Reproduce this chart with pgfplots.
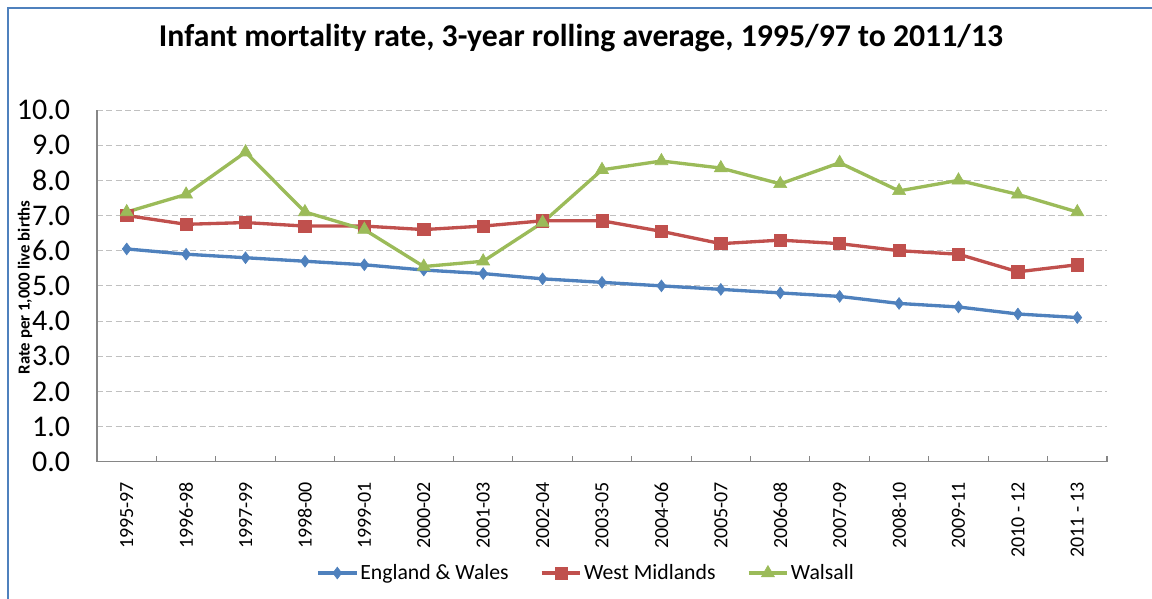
\documentclass[border=0pt]{standalone}
\usepackage{fontspec}
\setmainfont{Carlito}
\usepackage{pgfplots}
\pgfplotsset{compat=1.18}
\definecolor{ewblue}{HTML}{4F81BD}
\definecolor{wmred}{HTML}{C0504D}
\definecolor{wgreen}{HTML}{9BBB59}
\definecolor{frameblue}{HTML}{4F81BD}
\definecolor{axisgray}{HTML}{868686}
\definecolor{gridgray}{HTML}{C0C0C0}
\begin{document}
\begin{tikzpicture}
\path[use as bounding box] (0,0) rectangle (864pt,-449.25pt);
\draw[frameblue, line width=1.5pt] (6pt,-449.25pt) -- (6pt,-6pt) -- (864pt,-6pt);
\node[anchor=base, font=\bfseries\fontsize{23.8}{28}\selectfont] at (435.75pt,-35.25pt) {Infant mortality rate, 3-year rolling average, 1995/97 to 2011/13};
\node[rotate=90, font=\bfseries\fontsize{12.6}{15}\selectfont] at (18.75pt,-215.5pt) {Rate per 1,000 live births};
\begin{axis}[
  at={(72.75pt,-346.3pt)}, anchor=south west,
  scale only axis, width=757.5pt, height=263.8pt,
  xmin=-0.5, xmax=16.5, ymin=0, ymax=10,
  axis x line*=bottom, axis y line*=left,
  axis line style={draw=axisgray, line width=1pt},
  xtick={0,...,16},
  xticklabels={1995-97,1996-98,1997-99,1998-00,1999-01,2000-02,2001-03,2002-04,2003-05,2004-06,2005-07,2006-08,2007-09,2008-10,2009-11,2010 - 12,2011 - 13},
  major x tick style={draw=none},
  minor xtick={-0.5,0.5,...,16.5},
  minor x tick style={draw=axisgray, line width=0.8pt},
  tick align=inside, minor tick length=4.5pt,
  xticklabel style={rotate=90, anchor=east, inner sep=0pt, font=\fontsize{15}{18}\selectfont},
  xticklabel shift=15pt,
  ytick={0,...,10},
  yticklabels={0.0,1.0,2.0,3.0,4.0,5.0,6.0,7.0,8.0,9.0,10.0},
  y tick style={draw=none},
  yticklabel style={inner sep=0pt, font=\fontsize{22.5}{26}\selectfont},
  yticklabel shift=20pt,
  ymajorgrids,
  grid style={gridgray, dash pattern=on 4.5pt off 2.5pt, line width=0.75pt},
  legend style={at={(0.4842,-0.3165)}, anchor=center, draw=none, fill=none,
    legend columns=-1, font=\fontsize{16.3}{19}\selectfont,
    nodes={inner sep=1.5pt},
    /tikz/every even column/.append style={column sep=22pt}},
  legend image code/.code={\draw[mark repeat=2,mark phase=2,#1] plot coordinates {(0pt,0pt) (14.5pt,0pt) (29pt,0pt)};},
]
\addplot[color=ewblue, line width=2.5pt, mark=diamond*, mark size=4.4pt, mark options={fill=ewblue, draw=ewblue, line width=0.5pt}]
coordinates {(0,6.05) (1,5.9) (2,5.8) (3,5.7) (4,5.6) (5,5.45) (6,5.35) (7,5.2) (8,5.1) (9,5.0) (10,4.9) (11,4.8) (12,4.7) (13,4.5) (14,4.4) (15,4.2) (16,4.1)};
\addlegendentry{England \& Wales}
\addplot[color=wmred, line width=2.5pt, mark=square*, mark size=4.6pt, mark options={fill=wmred, draw=wmred, line width=0.5pt}]
coordinates {(0,7.0) (1,6.75) (2,6.8) (3,6.7) (4,6.7) (5,6.6) (6,6.7) (7,6.85) (8,6.85) (9,6.55) (10,6.2) (11,6.3) (12,6.2) (13,6.0) (14,5.9) (15,5.4) (16,5.6)};
\addlegendentry{West Midlands}
\addplot[color=wgreen, line width=2.5pt, mark=triangle*, mark size=5.6pt, mark options={fill=wgreen, draw=wgreen, line width=0.5pt}]
coordinates {(0,7.1) (1,7.6) (2,8.8) (3,7.1) (4,6.6) (5,5.55) (6,5.7) (7,6.8) (8,8.3) (9,8.55) (10,8.35) (11,7.9) (12,8.5) (13,7.7) (14,8.0) (15,7.6) (16,7.1)};
\addlegendentry{Walsall}
\end{axis}
\end{tikzpicture}
\end{document}
